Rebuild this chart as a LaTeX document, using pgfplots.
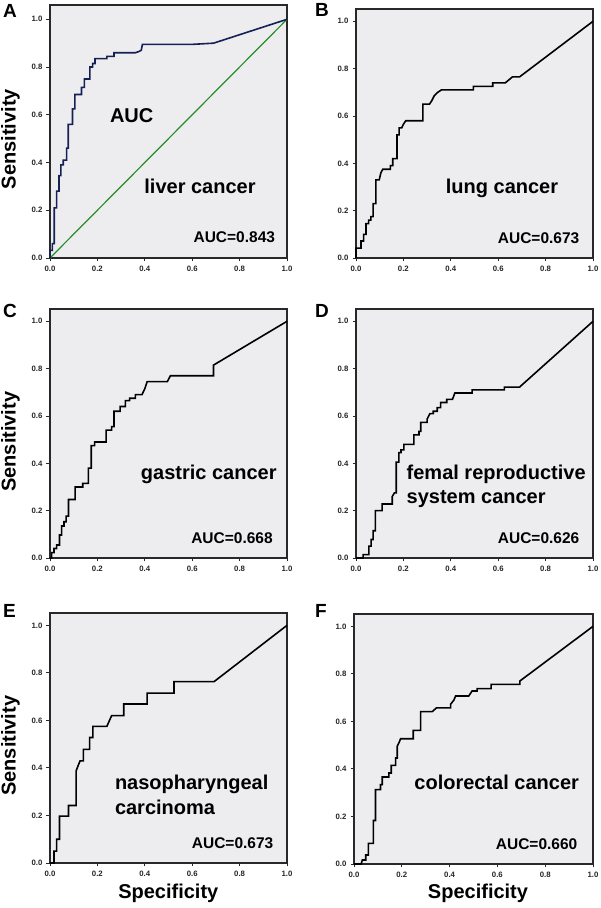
\documentclass[border=0pt]{standalone}
\usepackage{pgfplots}
\pgfplotsset{compat=1.18}
\usepackage{fontspec}
\setmainfont{Liberation Sans}
\definecolor{bgc}{RGB}{237,237,240}
\definecolor{navyc}{RGB}{22,32,84}
\definecolor{greenc}{RGB}{40,140,40}
\definecolor{framec}{RGB}{40,40,40}
\pgfplotsset{
  rocstyle/.style={
    scale only axis, width=237pt, height=249pt,
    xmin=0, xmax=1, ymin=0, ymax=1.052,
    xtick={0,0.2,0.4,0.6,0.8,1.0}, ytick={0,0.2,0.4,0.6,0.8,1.0},
    tick align=outside, xtick pos=bottom, ytick pos=left,
    major tick length=3.5pt,
    axis background/.style={fill=bgc},
    axis line style={line width=1.1pt, framec},
    tick style={line width=0.9pt, framec},
    ticklabel style={font=\fontsize{7.8}{9}\selectfont\bfseries, text=black!85},
    /pgf/number format/assume math mode=true,
    /pgf/number format/fixed, /pgf/number format/fixed zerofill, /pgf/number format/precision=1,
    xticklabel style={yshift=-1pt},
    yticklabel style={xshift=-0.5pt},
    clip=false,
    anchor=south west,
  },
  curve/.style={black, line width=1.6pt, line join=miter},
}
\newcommand{\bigtxt}{\fontsize{20}{24}\selectfont\bfseries}
\newcommand{\auctxt}{\fontsize{15.5}{18}\selectfont\bfseries}
\newcommand{\lettertxt}{\fontsize{19}{22}\selectfont\bfseries}
\begin{document}
\begin{tikzpicture}
\path[use as bounding box] (0pt,0pt) rectangle (600pt,908pt);

% ---------- A ----------
\begin{axis}[rocstyle, at={(50pt,650pt)}, height=253pt, ymax=1.06]
\addplot[greenc, line width=1.2pt] coordinates {(0,0) (1,1)};
\addplot[navyc, line width=1.6pt, line join=miter] coordinates {
(0,0)(0,0.032)(0.01,0.032)(0.01,0.06)(0.018,0.06)(0.018,0.21)(0.028,0.21)(0.028,0.28)
(0.038,0.28)(0.038,0.345)(0.046,0.345)(0.046,0.39)(0.056,0.39)(0.056,0.41)(0.07,0.41)
(0.07,0.46)(0.077,0.46)(0.077,0.56)(0.095,0.56)(0.095,0.625)(0.105,0.625)(0.105,0.685)
(0.133,0.685)(0.133,0.715)(0.145,0.715)(0.145,0.75)(0.168,0.75)(0.168,0.80)(0.18,0.80)
(0.18,0.815)(0.19,0.815)(0.19,0.835)(0.24,0.835)(0.24,0.845)(0.27,0.845)(0.27,0.86)
(0.36,0.86)(0.375,0.865)(0.385,0.87)(0.39,0.895)(0.60,0.895)(0.69,0.90)(1,1)};
\end{axis}

% ---------- B ----------
\begin{axis}[rocstyle, at={(356pt,650pt)}]
\addplot[curve] coordinates {
(0,0)(0,0.042)(0.021,0.042)(0.021,0.072)(0.032,0.072)(0.032,0.10)(0.042,0.10)(0.042,0.145)
(0.053,0.145)(0.053,0.16)(0.063,0.16)(0.063,0.175)(0.072,0.175)(0.072,0.23)(0.084,0.23)
(0.084,0.33)(0.098,0.33)(0.105,0.36)(0.113,0.375)(0.145,0.375)(0.145,0.39)(0.155,0.39)
(0.155,0.42)(0.173,0.42)(0.173,0.52)(0.182,0.52)(0.182,0.55)(0.193,0.55)(0.2,0.565)
(0.21,0.58)(0.282,0.58)(0.282,0.65)(0.31,0.65)(0.32,0.665)(0.33,0.685)(0.345,0.70)
(0.36,0.71)(0.495,0.71)(0.495,0.725)(0.577,0.725)(0.577,0.74)(0.63,0.74)(0.66,0.765)
(0.69,0.765)(1,1)};
\end{axis}

% ---------- C ----------
\begin{axis}[rocstyle, at={(50pt,350pt)}]
\addplot[curve] coordinates {
(0,0)(0.007,0)(0.007,0.023)(0.017,0.023)(0.017,0.04)(0.028,0.04)(0.028,0.055)(0.04,0.055)
(0.04,0.097)(0.049,0.097)(0.049,0.135)(0.059,0.135)(0.059,0.153)(0.068,0.153)(0.068,0.177)
(0.078,0.177)(0.078,0.247)(0.106,0.247)(0.106,0.30)(0.138,0.30)(0.138,0.315)(0.162,0.315)
(0.162,0.38)(0.174,0.38)(0.174,0.475)(0.188,0.475)(0.188,0.49)(0.237,0.49)(0.237,0.54)
(0.26,0.54)(0.26,0.555)(0.27,0.555)(0.27,0.62)(0.296,0.62)(0.296,0.64)(0.318,0.64)
(0.318,0.665)(0.336,0.665)(0.336,0.675)(0.36,0.675)(0.36,0.69)(0.388,0.69)(0.4,0.715)
(0.41,0.745)(0.495,0.745)(0.508,0.77)(0.69,0.77)(0.69,0.815)(1,1)};
\end{axis}

% ---------- D ----------
\begin{axis}[rocstyle, at={(356pt,350pt)}]
\addplot[curve] coordinates {
(0,0)(0.03,0)(0.03,0.014)(0.054,0.014)(0.054,0.05)(0.064,0.05)(0.064,0.078)(0.072,0.078)
(0.072,0.115)(0.082,0.115)(0.082,0.20)(0.11,0.20)(0.11,0.228)(0.153,0.228)(0.153,0.26)
(0.162,0.275)(0.17,0.275)(0.17,0.405)(0.181,0.405)(0.181,0.445)(0.19,0.445)(0.19,0.457)
(0.202,0.457)(0.202,0.48)(0.244,0.48)(0.244,0.52)(0.266,0.52)(0.266,0.535)(0.273,0.535)
(0.273,0.573)(0.30,0.573)(0.30,0.587)(0.312,0.61)(0.326,0.61)(0.326,0.62)(0.343,0.62)
(0.343,0.635)(0.357,0.635)(0.357,0.657)(0.383,0.657)(0.383,0.67)(0.407,0.67)(0.417,0.697)
(0.49,0.697)(0.49,0.71)(0.626,0.71)(0.626,0.722)(0.69,0.722)(1,1)};
\end{axis}

% ---------- E ----------
\begin{axis}[rocstyle, at={(50pt,45pt)}, height=250pt]
\addplot[curve] coordinates {
(0,0)(0.017,0)(0.017,0.05)(0.028,0.05)(0.028,0.10)(0.04,0.10)(0.04,0.197)(0.078,0.197)
(0.078,0.242)(0.11,0.242)(0.11,0.387)(0.12,0.413)(0.127,0.43)(0.141,0.43)(0.141,0.478)
(0.167,0.478)(0.167,0.528)(0.181,0.528)(0.181,0.575)(0.24,0.575)(0.26,0.62)(0.311,0.62)
(0.311,0.669)(0.41,0.669)(0.41,0.715)(0.523,0.715)(0.523,0.763)(0.692,0.763)(1,1)};
\end{axis}

% ---------- F ----------
\begin{axis}[rocstyle, at={(354pt,44pt)}, width=239pt, height=250pt]
\addplot[curve] coordinates {
(0,0)(0.03,0)(0.035,0.017)(0.049,0.017)(0.049,0.038)(0.06,0.038)(0.06,0.087)(0.081,0.087)
(0.081,0.183)(0.09,0.183)(0.09,0.313)(0.111,0.313)(0.111,0.334)(0.118,0.334)(0.118,0.366)
(0.146,0.366)(0.146,0.383)(0.156,0.383)(0.156,0.415)(0.174,0.415)(0.174,0.446)(0.181,0.446)
(0.181,0.496)(0.188,0.51)(0.195,0.527)(0.248,0.527)(0.248,0.562)(0.279,0.562)(0.279,0.641)
(0.327,0.641)(0.345,0.657)(0.404,0.657)(0.404,0.672)(0.418,0.69)(0.425,0.707)(0.48,0.707)
(0.494,0.728)(0.515,0.728)(0.515,0.738)(0.574,0.738)(0.574,0.756)(0.694,0.756)(0.694,0.77)(1,1)};
\end{axis}

% ---------- texts (y = 908 - pixel row) ----------
\begin{scope}[x=1pt, y=1pt, every node/.style={inner sep=0pt, outer sep=0pt}]
% panel letters
\node[anchor=base west, font=\lettertxt] at (3,890) {A};
\node[anchor=base west, font=\lettertxt] at (315,891) {B};
\node[anchor=base west, font=\lettertxt] at (3,590) {C};
\node[anchor=base west, font=\lettertxt] at (315,590) {D};
\node[anchor=base west, font=\lettertxt] at (3,290) {E};
\node[anchor=base west, font=\lettertxt] at (315,290) {F};
% axis labels
\node[rotate=90, font=\bigtxt] at (10.5,768.8) {Sensitivity};
\node[rotate=90, font=\bigtxt] at (10.5,466.3) {Sensitivity};
\node[rotate=90, font=\bigtxt] at (10.5,162.3) {Sensitivity};
\node[anchor=base, font=\bigtxt] at (168.3,9.7) {Specificity};
\node[anchor=base, font=\bigtxt] at (478,9.7) {Specificity};
% A
\node[anchor=base, font=\bigtxt] at (131.7,785.3) {AUC};
\node[anchor=base, font=\bigtxt] at (200,714.7) {liver cancer};
\node[anchor=base east, font=\auctxt] at (275,665.7) {AUC=0.843};
% B
\node[anchor=base, font=\bigtxt] at (502,714.7) {lung cancer};
\node[anchor=base east, font=\auctxt] at (579.3,664.7) {AUC=0.673};
% C
\node[anchor=base, font=\bigtxt] at (208.8,428) {gastric cancer};
\node[anchor=base east, font=\auctxt] at (272.7,364) {AUC=0.668};
% D
\node[anchor=base west, font=\bigtxt] at (406.7,428.7) {femal reproductive};
\node[anchor=base west, font=\bigtxt] at (406.7,404) {system cancer};
\node[anchor=base east, font=\auctxt] at (579.3,364.7) {AUC=0.626};
% E
\node[anchor=base west, font=\bigtxt] at (115,118) {nasopharyngeal};
\node[anchor=base west, font=\bigtxt] at (115,93.7) {carcinoma};
\node[anchor=base east, font=\auctxt] at (273.3,59.7) {AUC=0.673};
% F
\node[anchor=base, font=\bigtxt] at (496.7,118) {colorectal cancer};
\node[anchor=base east, font=\auctxt] at (577.3,58.7) {AUC=0.660};
\end{scope}
\end{tikzpicture}
\end{document}
